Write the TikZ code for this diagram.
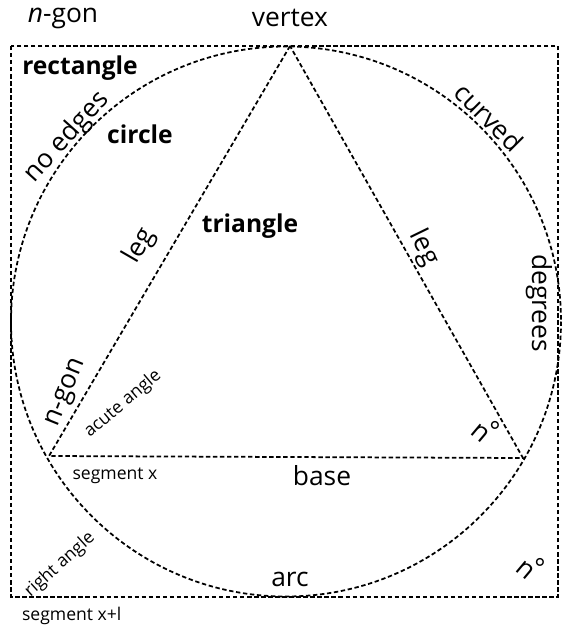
\documentclass[tikz,border=0pt]{standalone}
\usepackage{graphicx}
\usepackage{fontspec}
\setmainfont{Open Sans}
\usepackage{tikz}
\usetikzlibrary{positioning}

\begin{document}
\begin{tikzpicture}[
  x=0.02cm, y=-0.02cm,
  font=\fontsize{15}{17}\selectfont,
  outline/.style={dash pattern=on 2.5pt off 1.5pt, line width=1pt},
  heavy/.style={font=\fontsize{14}{16}\selectfont\bfseries},
  small/.style={font=\fontsize{10}{12}\selectfont},
  tag/.style={inner sep=1pt},
]
  \useasboundingbox (0,0) rectangle (563,635);

  % Frame and circle
  \coordinate (nw) at (11,46);
  \coordinate (se) at (558,597);
  \coordinate (ctr) at (286,321.5);
  \draw[outline] (nw) rectangle (se);
  \draw[outline] (ctr) circle[radius=275];

  % Triangle
  \coordinate (apex) at (290,46);
  \coordinate (bl) at (49,456);
  \coordinate (br) at (523,458);
  \draw[outline] (apex) -- (bl) -- (br) -- cycle;

  % Outside labels
  \node[tag] (ngontop) at (63,18) {\textit{n}-gon};
  \node[tag] (vertex) at (290,18) {vertex};
  \node[tag, small, anchor=west] (segxl) at (20,616) {segment x+l};

  % Shape names
  \node[tag, heavy] (rect) at (80,68) {rectangle};
  \node[tag, heavy] (circ) at (140,134) {circle};
  \node[tag, heavy] (tri) at (250,226) {triangle};

  % Labels along the curves
  \node[tag, rotate=48] (noedges) at (67,137) {no edges};
  \node[tag, rotate=-45] (curved) at (489,117) {curved};
  \node[tag, rotate=-90] (degrees) at (539,303) {degrees};
  \node[tag] (arc) at (290,579) {arc};

  % Labels along the triangle
  \node[tag, rotate=60] (legl) at (140,246) {leg};
  \node[tag, rotate=-64] (legr) at (424,248) {leg};
  \node[tag, rotate=68] (ngonside) at (67,393) {n-gon};
  \node[tag, small, rotate=40] (acute) at (123,404) {acute angle};
  \node[tag] (base) at (322,476) {base};
  \node[tag, small] (segx) at (115,476) {segment x};

  % Angle marks
  \node[tag] (degbr) at (485,433) {\rotatebox[origin=c]{-40}{n}\kern-1pt°};
  \node[tag] (degse) at (530,570) {\rotatebox[origin=c]{-40}{n}\kern-1pt°};
  \node[tag, small, rotate=42] (right) at (60,565) {right angle};
\end{tikzpicture}
\end{document}
